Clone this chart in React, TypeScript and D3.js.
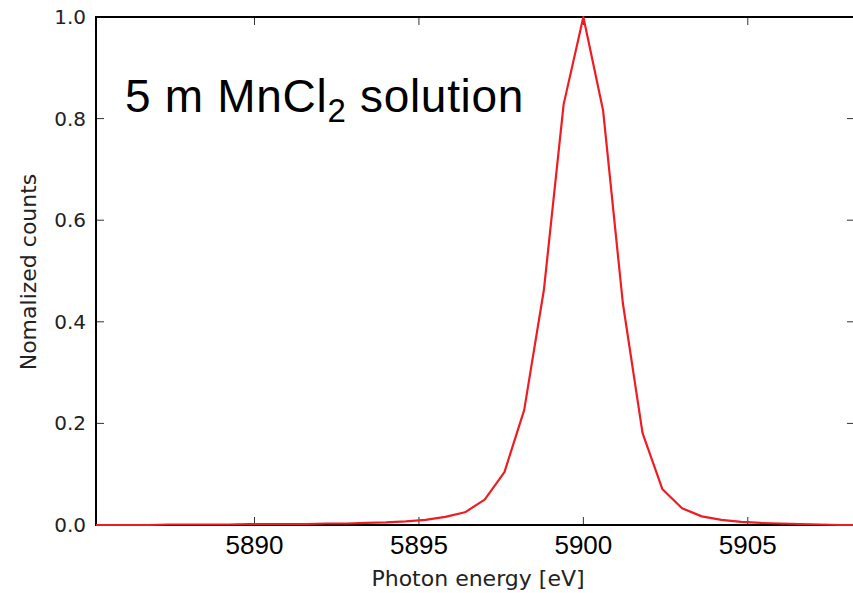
import React from "react";
import * as d3 from "d3";

// photon energy grid [eV]
const energies = [
  5885.0, 5885.6, 5886.2, 5886.8, 5887.4, 5888.0, 5888.6, 5889.2, 5889.8, 5890.4,
  5891.0, 5891.6, 5892.2, 5892.8, 5893.4, 5894.0, 5894.6, 5895.2, 5895.8, 5896.4,
  5897.0, 5897.6, 5898.2, 5898.8, 5899.4, 5900.0, 5900.6, 5901.2, 5901.8, 5902.4,
  5903.0, 5903.6, 5904.2, 5904.8, 5905.4, 5906.0, 5906.6, 5907.2, 5907.8, 5908.4,
];

// normalized counts
const counts = [
  0.0, 0.0, 0.0, 0.0, 0.001, 0.001, 0.001, 0.001, 0.002, 0.002,
  0.002, 0.002, 0.003, 0.003, 0.004, 0.005, 0.007, 0.01, 0.016, 0.025,
  0.05, 0.104, 0.226, 0.463, 0.828, 1.0, 0.816, 0.437, 0.181, 0.071,
  0.033, 0.017, 0.01, 0.006, 0.004, 0.003, 0.002, 0.001, 0.0, 0.0,
];

const xTicks = [5890, 5895, 5900, 5905];
const yTicks = [0.0, 0.2, 0.4, 0.6, 0.8, 1.0];

const W = 853;
const H = 593;
const left = 96;
const right = 855; // right spine sits just outside the picture
const top = 17;
const bottom = 525;

export default function App() {
  const x = d3.scaleLinear().domain([5885.18, 5908.26]).range([left, right]);
  const y = d3.scaleLinear().domain([0, 1]).range([bottom, top]);

  const line = d3
    .line<number>()
    .x((_, i) => x(energies[i]))
    .y((d) => y(d));

  const tickLen = 8;

  return (
    <svg
      width={W}
      height={H}
      style={{ position: "fixed", left: 0, top: 0, background: "#fff" }}
    >
      <defs>
        <clipPath id="plotClip">
          <rect x={left} y={top - 2} width={right - left} height={bottom - top + 4} />
        </clipPath>
      </defs>

      {/* ticks, pointing inward */}
      <g stroke="#333" strokeWidth={1}>
        {xTicks.map((t) => (
          <g key={"xt" + t}>
            <line x1={x(t)} x2={x(t)} y1={bottom} y2={bottom - tickLen} />
            <line x1={x(t)} x2={x(t)} y1={top} y2={top + tickLen} />
          </g>
        ))}
        {yTicks.map((t) => (
          <g key={"yt" + t}>
            <line x1={left} x2={left + tickLen} y1={y(t)} y2={y(t)} />
            <line x1={right} x2={right - tickLen} y1={y(t)} y2={y(t)} />
          </g>
        ))}
      </g>

      {/* spines */}
      <rect
        x={left}
        y={top}
        width={right - left}
        height={bottom - top}
        fill="none"
        stroke="#000"
        strokeWidth={2}
      />

      {/* data */}
      <path
        d={line(counts) || ""}
        fill="none"
        stroke="#ee1d23"
        strokeWidth={2.2}
        strokeLinejoin="round"
        clipPath="url(#plotClip)"
      />

      {/* y tick labels */}
      <g fontFamily="DejaVu Sans" fontSize={20} fill="#222" textAnchor="end">
        {yTicks.map((t) => (
          <text key={"yl" + t} x={left - 10} y={y(t) + 7}>
            {d3.format(".1f")(t)}
          </text>
        ))}
      </g>

      {/* x tick labels */}
      <g fontFamily="Liberation Sans, Arial" fontSize={26} fill="#000" textAnchor="middle">
        {xTicks.map((t) => (
          <text key={"xl" + t} x={x(t)} y={554}>
            {t}
          </text>
        ))}
      </g>

      {/* axis titles */}
      <text
        x={478}
        y={586}
        fontFamily="DejaVu Sans"
        fontSize={22}
        fill="#222"
        textAnchor="middle"
      >
        Photon energy [eV]
      </text>
      <text
        transform="translate(36,272) rotate(-90)"
        fontFamily="DejaVu Sans"
        fontSize={22}
        fill="#222"
        textAnchor="middle"
      >
        Nomalized counts
      </text>

      {/* annotation */}
      <text
        x={125}
        y={112}
        fontFamily="Liberation Sans, Arial"
        fontSize={46}
        fill="#000"
        letterSpacing={0.7}
      >
        5 m MnCl
        <tspan fontSize={33} dy={10}>2</tspan>
        <tspan dy={-10}> solution</tspan>
      </text>
    </svg>
  );
}
